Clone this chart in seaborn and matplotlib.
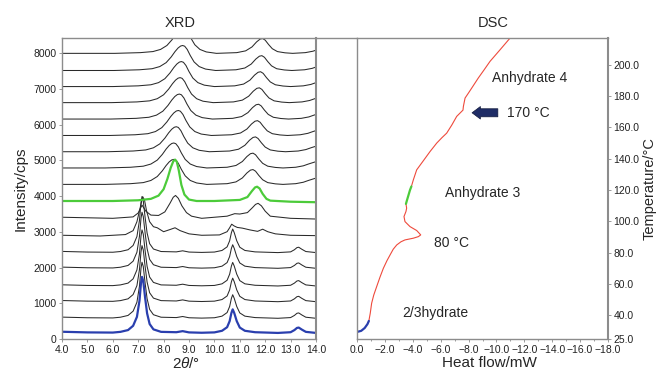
import numpy as np
import pandas as pd
import seaborn as sns
import matplotlib.pyplot as plt
from matplotlib.lines import Line2D

sns.set_theme(style="ticks")
plt.rcParams["font.family"] = ["Liberation Sans", "DejaVu Sans"]
plt.rcParams["mathtext.fontset"] = "custom"
plt.rcParams["mathtext.rm"] = "Liberation Sans"
plt.rcParams["mathtext.it"] = "Liberation Sans:italic"

# ---- XRD data (2theta in deg, counts above each trace's baseline) ----
hydrate_tt = [3.6, 5.0, 6.0, 6.3, 6.6, 6.8, 6.95, 7.05, 7.11, 7.15, 7.2, 7.27, 7.35, 7.45,
              7.6, 7.9, 8.5, 8.75, 9.0, 9.5, 10.0, 10.3, 10.5, 10.6, 10.67, 10.72, 10.78,
              10.88, 11.0, 11.2, 11.6, 12.5, 13.0, 13.15, 13.25, 13.32, 13.45, 13.6, 14.0, 14.4]
hydrate_cps = [40, 15, 10, 30, 80, 200, 450, 900, 1400, 1570, 1450, 1000, 550, 250,
               100, 30, 20, 50, 15, 5, 15, 60, 160, 330, 560, 660, 560,
               330, 150, 60, 20, 0, 20, 80, 140, 150, 90, 30, 0, 0]
hydrate_base = [170, 580, 1045, 1485, 1980, 2420]

transA_tt = [4.0, 5.5, 6.5, 6.8, 6.95, 7.08, 7.18, 7.25, 7.33, 7.45, 7.6, 7.75, 8.0, 8.25,
             8.45, 8.65, 9.0, 9.5, 10.2, 10.5, 10.6, 10.68, 10.78, 10.9, 11.1, 11.4, 11.7,
             11.9, 12.1, 12.4, 13.0, 14.0]
transA_cps = [20, 0, 40, 150, 400, 800, 1100, 1000, 700, 400, 260, 230, 120, 180,
              230, 150, 60, 20, 30, 120, 230, 330, 280, 240, 220, 170, 130,
              190, 120, 60, 20, 10]
transA_base = 2885

transB_tt = [4.0, 6.0, 6.8, 7.0, 7.15, 7.3, 7.5, 7.8, 8.05, 8.25, 8.38, 8.47, 8.58, 8.72,
             8.9, 9.1, 9.5, 10.5, 10.8, 11.0, 11.3, 11.5, 11.62, 11.72, 11.85, 12.0, 12.2,
             13.0, 14.0]
transB_cps = [30, 0, 40, 150, 370, 200, 90, 80, 180, 420, 590, 640, 560, 350,
              160, 60, 0, 60, 130, 120, 160, 300, 390, 420, 350, 200, 60,
              0, -20]
transB_base = 3380

green_tt = [3.6, 6.0, 7.0, 7.5, 7.8, 8.0, 8.15, 8.28, 8.38, 8.45, 8.52, 8.6, 8.7, 8.82,
            9.0, 9.3, 10.0, 11.0, 11.3, 11.48, 11.6, 11.68, 11.78, 11.9, 12.05, 12.2,
            13.0, 14.4]
green_cps = [0, 0, 20, 60, 150, 330, 620, 930, 1110, 1160, 1100, 850, 450, 180,
             40, 0, 0, 30, 110, 280, 380, 400, 350, 200, 60, 10,
             -20, -40]
green_base = 3865

anhyd_tt = [3.6, 6.0, 7.0, 7.5, 7.8, 8.05, 8.25, 8.4, 8.52, 8.62, 8.7, 8.78, 8.88, 9.0,
            9.15, 9.35, 9.6, 10.0, 10.8, 11.15, 11.4, 11.58, 11.72, 11.82, 11.92, 12.05,
            12.2, 12.4, 12.7, 13.0, 13.5, 13.8, 14.0, 14.4]
anhyd_cps = [0, 0, 20, 50, 110, 220, 380, 530, 630, 685, 700, 680, 590, 420,
             240, 110, 40, 0, 20, 70, 180, 320, 400, 415, 370, 250,
             130, 50, 15, 0, 20, 60, 110, 200]
anhyd_base = [4330, 4790, 5245, 5700, 6160, 6620, 7070, 7520, 8000]
anhyd_shift = [-0.3, -0.3, -0.2, -0.12, -0.08, -0.05, 0.0, 0.05, 0.08]

# ---- DSC data (heat flow mW, temperature C) ----
dsc_blue_hf = [0.0, -0.3, -0.55, -0.75, -0.85]
dsc_blue_t = [29.5, 30.2, 32.0, 34.5, 36.5]
dsc_red1_hf = [-0.85, -0.95, -1.05, -1.2, -1.41, -1.65, -1.89, -2.15, -2.37, -2.6, -2.85,
               -3.15, -3.44, -4.04, -4.4, -4.57, -4.28, -3.8, -3.44, -3.37, -3.51, -3.56, -3.51]
dsc_red1_t = [36.5, 41.4, 47.8, 53.0, 58.4, 64.5, 70.1, 75.0, 78.6, 82.3, 85.0,
              87.0, 88.2, 89.3, 90.3, 91.4, 94.2, 96.7, 99.9, 103.1, 106.3, 108.5, 111.2]
dsc_green_hf = [-3.51, -3.6, -3.7, -3.8, -3.9]
dsc_green_t = [111.2, 114.0, 117.0, 120.0, 122.3]
dsc_red2_hf = [-3.9, -4.04, -4.28, -4.7, -5.24, -5.72, -6.1, -6.43, -6.8, -7.15, -7.51,
               -7.6, -7.63, -7.7, -7.75, -8.0, -8.23, -8.7, -9.1, -9.54, -10.26, -10.98]
dsc_red2_t = [122.3, 126.5, 132.9, 138.0, 144.6, 150.0, 153.5, 156.3, 161.5, 167.0, 170.2,
              171.0, 173.4, 176.5, 178.7, 182.0, 185.1, 191.5, 196.5, 202.1, 209.5, 217.0]

xrd_xticks = [4.0, 5.0, 6.0, 7.0, 8.0, 9.0, 10.0, 11.0, 12.0, 13.0, 14.0]
xrd_yticks = [0, 1000, 2000, 3000, 4000, 5000, 6000, 7000, 8000]
dsc_xticks = [0.0, -2.0, -4.0, -6.0, -8.0, -10.0, -12.0, -14.0, -16.0, -18.0]
dsc_yticks = [25.0, 40.0, 60.0, 80.0, 100.0, 120.0, 140.0, 160.0, 180.0, 200.0]

W, H = 656, 371
GRAY = "#8c8c8c"
BLUE = "#2a3fae"
GREEN = "#4ccb3a"
RED = "#ee4a3c"


def fx(px):
    return px / W


def fy(py):
    return 1 - py / H


# build the stacked black traces as one long table
rows = []
k = 0
for b in hydrate_base[1:]:
    rows.append(pd.DataFrame({"tt": hydrate_tt, "cps": np.add(hydrate_cps, b), "trace": k}))
    k += 1
rows.append(pd.DataFrame({"tt": transA_tt, "cps": np.add(transA_cps, transA_base), "trace": k}))
k += 1
rows.append(pd.DataFrame({"tt": transB_tt, "cps": np.add(transB_cps, transB_base), "trace": k}))
k += 1
for b, s in zip(anhyd_base, anhyd_shift):
    rows.append(pd.DataFrame({"tt": np.add(anhyd_tt, s), "cps": np.add(anhyd_cps, b), "trace": k}))
    k += 1
black = pd.concat(rows)

fig = plt.figure(figsize=(6.56, 3.71), dpi=100)
ax1 = fig.add_axes([fx(62), fy(339), 254 / W, 301 / H])
ax2 = fig.add_axes([fx(357), fy(339), 251 / W, 301 / H])

# XRD
sns.lineplot(data=black, x="tt", y="cps", units="trace", estimator=None, sort=False,
             color="#2a2a2a", lw=0.75, ax=ax1)
sns.lineplot(x=hydrate_tt, y=np.add(hydrate_cps, hydrate_base[0]), sort=False,
             color=BLUE, lw=1.6, ax=ax1)
sns.lineplot(x=green_tt, y=np.add(green_cps, green_base), sort=False,
             color=GREEN, lw=1.6, ax=ax1)
ax1.set_xlim(4.0, 14.0)
ax1.set_ylim(0, 8430)
ax1.set_xticks(xrd_xticks)
ax1.set_xticklabels([f"{v:.1f}" for v in xrd_xticks])
ax1.set_yticks(xrd_yticks)
ax1.set_yticklabels([str(v) for v in xrd_yticks])
ax1.set_xlabel("")
ax1.set_ylabel("Intensity/cps", fontsize=11, labelpad=4)

# DSC
sns.lineplot(x=dsc_red1_hf, y=dsc_red1_t, sort=False, estimator=None, color=RED, lw=0.8, ax=ax2)
sns.lineplot(x=dsc_red2_hf, y=dsc_red2_t, sort=False, estimator=None, color=RED, lw=0.8, ax=ax2)
sns.lineplot(x=dsc_blue_hf, y=dsc_blue_t, sort=False, estimator=None, color=BLUE, lw=1.6, ax=ax2)
sns.lineplot(x=dsc_green_hf, y=dsc_green_t, sort=False, estimator=None, color=GREEN, lw=1.6, ax=ax2)
ax2.set_xlim(0.0, -18.0)
ax2.set_ylim(25.0, 217.0)
ax2.set_xticks(dsc_xticks)
ax2.set_xticklabels([f"{v:.1f}".replace("-", "\u2212") for v in dsc_xticks])
ax2.set_xticks(np.arange(-1.0, -18.0, -2.0), minor=True)
ax2.set_yticks(dsc_yticks)
ax2.set_yticklabels([f"{v:.1f}" for v in dsc_yticks])
ax2.yaxis.tick_right()
ax2.yaxis.set_label_position("right")
ax2.set_xlabel("")
ax2.set_ylabel("Temperature/\u00b0C", fontsize=10.5, labelpad=2)

for ax in (ax1, ax2):
    for sp in ax.spines.values():
        sp.set_visible(True)
        sp.set_color(GRAY)
        sp.set_linewidth(1.0)
    ax.tick_params(which="both", direction="out", length=2.5, width=0.6, color=GRAY,
                   labelsize=7.5, pad=1.5, labelcolor="#222222")
    ax.tick_params(which="minor", length=1.5)
ax1.spines["right"].set_linewidth(1.5)
ax2.spines["right"].set_linewidth(1.5)

# continuous top frame line between the panels
fig.add_artist(Line2D([fx(316), fx(357)], [fy(38), fy(38)], color=GRAY, lw=1.0))

# titles and axis labels
fig.text(fx(180), fy(23), "XRD", ha="center", va="center", fontsize=10.5)
fig.text(fx(493), fy(23), "DSC", ha="center", va="center", fontsize=10.5)
fig.text(fx(186), fy(363), r"$2\theta$/" + "\u00b0", ha="center", va="center", fontsize=11)
fig.text(fx(489), fy(363), "Heat flow/mW", ha="center", va="center", fontsize=11)

# DSC annotations
fig.text(fx(492), fy(78), "Anhydrate 4", ha="left", va="center", fontsize=10)
fig.text(fx(507), fy(113), "170 \u00b0C", ha="left", va="center", fontsize=10)
fig.text(fx(445), fy(193), "Anhydrate 3", ha="left", va="center", fontsize=10)
fig.text(fx(434), fy(243), "80 \u00b0C", ha="left", va="center", fontsize=10)
fig.text(fx(402), fy(313), "2/3hydrate", ha="left", va="center", fontsize=10)
ax2.annotate("", xy=(-8.25, 169.3), xytext=(-10.1, 169.3),
             arrowprops=dict(arrowstyle="simple,head_length=0.6,head_width=0.9,tail_width=0.58",
                             mutation_scale=10, fc="#1f2c66", ec="#10183a", lw=0.5,
                             shrinkA=0, shrinkB=0))

fig.savefig("out.png", dpi=100)
